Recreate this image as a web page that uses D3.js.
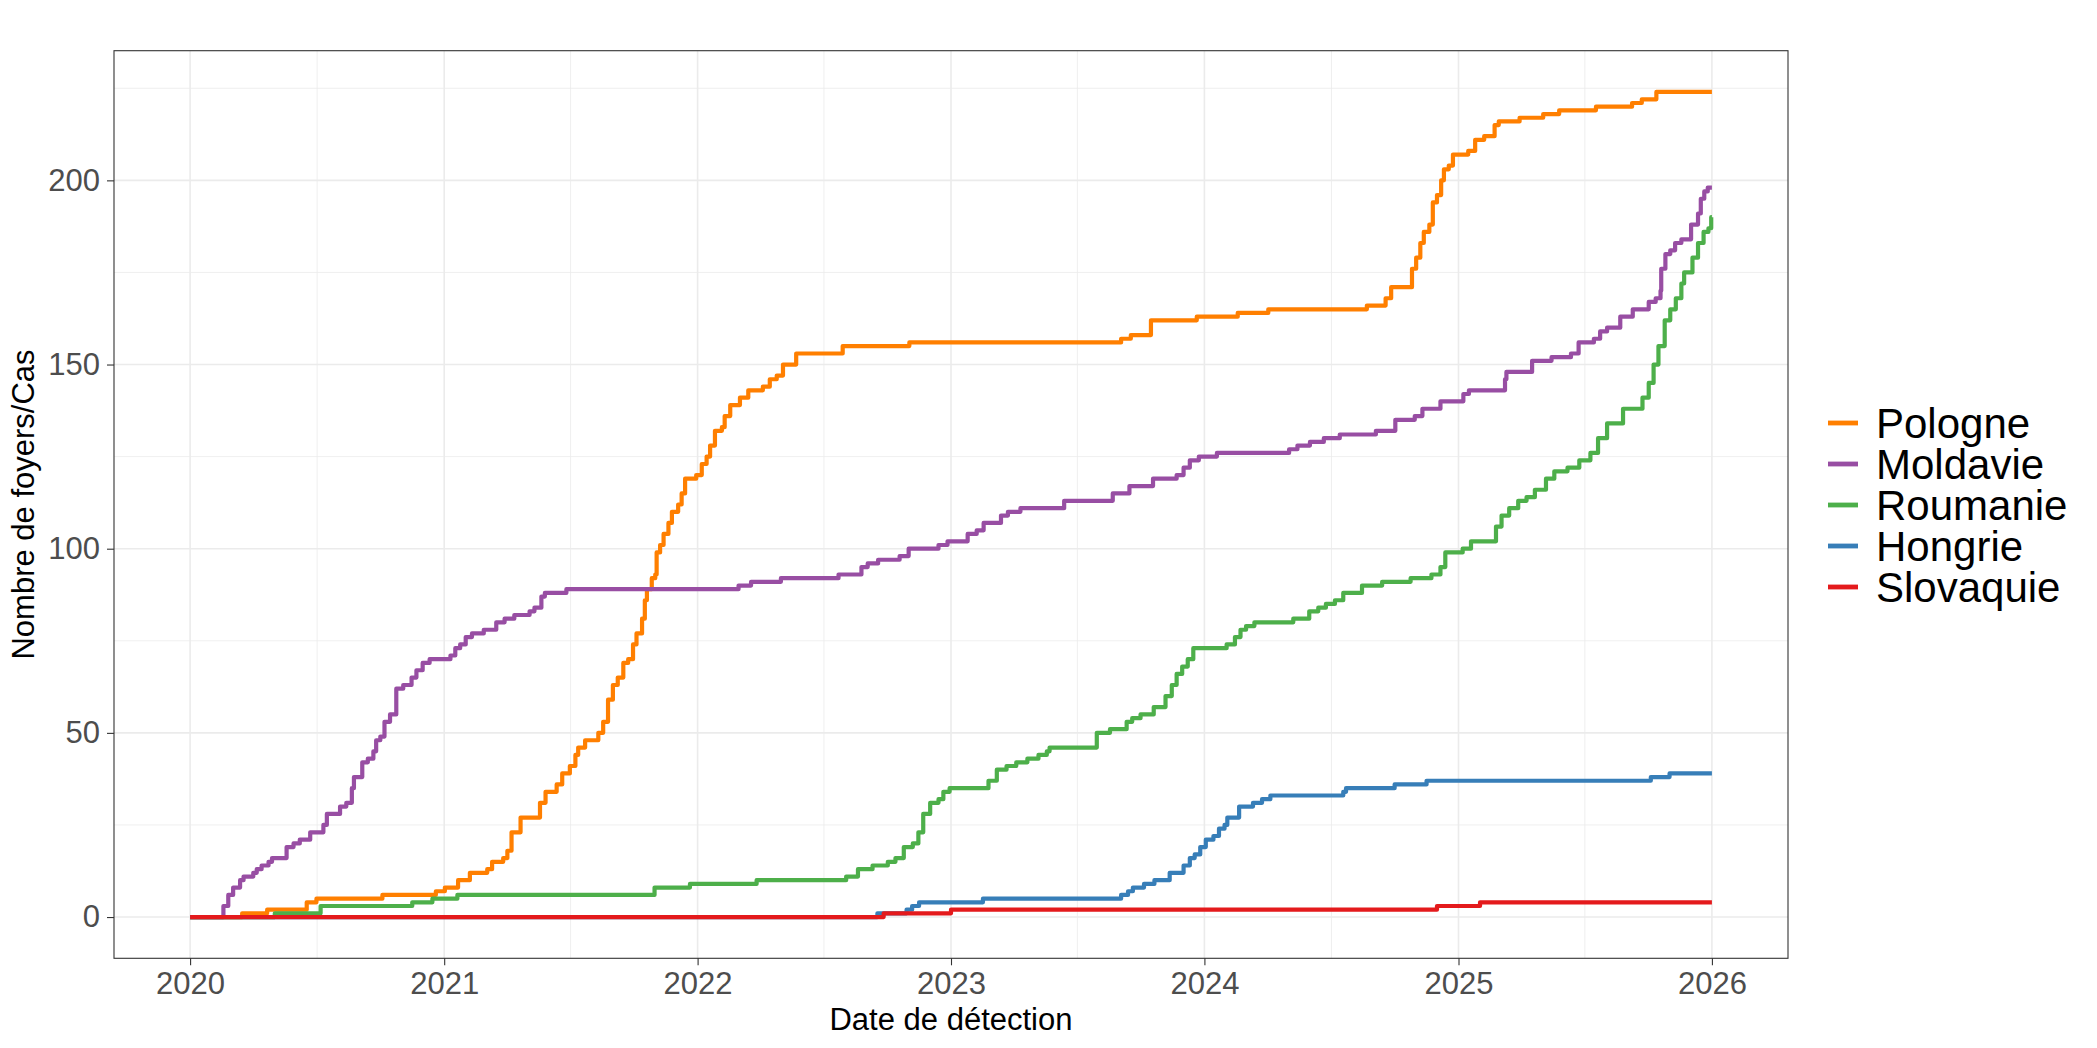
<!DOCTYPE html>
<html lang="fr">
<head>
  <meta charset="UTF-8">
  <title>Foyers cumulés</title>
  <script src="https://d3js.org/d3.v7.min.js"></script>
  <style>
    body { margin: 0; background: #fff; }
    text { font-family: "Liberation Sans", Arial, sans-serif; }
  </style>
</head>
<body>
  <div id="chart"></div>
  <script>
    // cumulative counts, [date, count]
    const pologne = [
      ["2020-01-01", 0], ["2020-03-16", 1], ["2020-04-21", 2], ["2020-06-17", 4], ["2020-07-01", 5],
      ["2020-10-04", 6], ["2020-12-20", 7], ["2021-01-02", 8], ["2021-01-21", 10], ["2021-02-07", 12],
      ["2021-03-04", 13], ["2021-03-11", 15], ["2021-03-27", 16], ["2021-04-02", 18], ["2021-04-08", 23],
      ["2021-04-21", 27], ["2021-05-19", 31], ["2021-05-27", 34], ["2021-06-12", 36], ["2021-06-20", 39],
      ["2021-07-01", 41], ["2021-07-09", 44], ["2021-07-13", 46], ["2021-07-23", 48], ["2021-08-11", 50],
      ["2021-08-18", 53], ["2021-08-25", 59], ["2021-09-01", 63], ["2021-09-08", 65], ["2021-09-16", 69],
      ["2021-09-23", 70], ["2021-09-30", 74], ["2021-10-05", 77], ["2021-10-13", 81], ["2021-10-17", 86],
      ["2021-10-20", 89], ["2021-10-27", 92], ["2021-11-01", 93], ["2021-11-03", 99], ["2021-11-08", 101],
      ["2021-11-13", 104], ["2021-11-20", 107], ["2021-11-25", 110], ["2021-12-04", 112], ["2021-12-09", 115],
      ["2021-12-14", 119], ["2021-12-30", 120], ["2022-01-07", 123], ["2022-01-14", 125], ["2022-01-19", 128],
      ["2022-01-26", 132], ["2022-02-05", 133], ["2022-02-09", 136], ["2022-02-17", 139], ["2022-03-03", 141],
      ["2022-03-15", 143], ["2022-04-05", 144], ["2022-04-15", 146], ["2022-04-25", 147], ["2022-05-04", 150],
      ["2022-05-23", 153], ["2022-07-29", 155], ["2022-11-02", 156], ["2023-09-03", 157], ["2023-09-17", 158],
      ["2023-10-16", 162], ["2023-12-21", 163], ["2024-02-18", 164], ["2024-04-02", 165], ["2024-08-22", 166],
      ["2024-09-18", 168], ["2024-09-26", 171], ["2024-10-26", 176], ["2024-11-01", 179], ["2024-11-07", 183],
      ["2024-11-12", 186], ["2024-11-20", 188], ["2024-11-25", 194], ["2024-12-01", 196], ["2024-12-07", 200],
      ["2024-12-11", 203], ["2024-12-18", 204], ["2024-12-24", 207], ["2025-01-15", 208], ["2025-01-25", 211],
      ["2025-02-07", 212], ["2025-02-22", 215], ["2025-02-28", 216], ["2025-03-30", 217], ["2025-05-03", 218],
      ["2025-05-26", 219], ["2025-07-18", 220], ["2025-09-08", 221], ["2025-09-22", 222], ["2025-10-13", 224],
      ["2026-01-01", 224]
    ];
    const moldavie = [
      ["2020-01-01", 0], ["2020-02-18", 3], ["2020-02-25", 6], ["2020-03-03", 8], ["2020-03-13", 10],
      ["2020-03-18", 11], ["2020-04-01", 12], ["2020-04-06", 13], ["2020-04-13", 14], ["2020-04-23", 15],
      ["2020-04-28", 16], ["2020-05-19", 19], ["2020-05-29", 20], ["2020-06-07", 21], ["2020-06-22", 23],
      ["2020-07-11", 25], ["2020-07-16", 28], ["2020-08-04", 30], ["2020-08-13", 31], ["2020-08-21", 35],
      ["2020-08-24", 38], ["2020-09-05", 42], ["2020-09-13", 43], ["2020-09-21", 45], ["2020-09-25", 48],
      ["2020-10-01", 49], ["2020-10-07", 53], ["2020-10-15", 55], ["2020-10-24", 62], ["2020-11-03", 63],
      ["2020-11-15", 65], ["2020-11-22", 67], ["2020-12-01", 69], ["2020-12-11", 70], ["2021-01-10", 71],
      ["2021-01-17", 73], ["2021-01-24", 74], ["2021-02-01", 76], ["2021-02-10", 77], ["2021-02-27", 78],
      ["2021-03-17", 80], ["2021-03-29", 81], ["2021-04-12", 82], ["2021-05-04", 83], ["2021-05-11", 84],
      ["2021-05-21", 87], ["2021-05-26", 88], ["2021-06-26", 89], ["2022-03-01", 90], ["2022-03-19", 91],
      ["2022-05-01", 92], ["2022-07-23", 93], ["2022-08-25", 95], ["2022-09-03", 96], ["2022-09-18", 97],
      ["2022-10-19", 98], ["2022-11-01", 100], ["2022-12-14", 101], ["2022-12-27", 102], ["2023-01-25", 104],
      ["2023-02-07", 105], ["2023-02-17", 107], ["2023-03-14", 109], ["2023-03-24", 110], ["2023-04-11", 111],
      ["2023-06-13", 113], ["2023-08-22", 115], ["2023-09-15", 117], ["2023-10-19", 119], ["2023-11-22", 120],
      ["2023-12-02", 122], ["2023-12-11", 124], ["2023-12-24", 125], ["2024-01-19", 126], ["2024-05-02", 127],
      ["2024-05-14", 128], ["2024-06-01", 129], ["2024-06-21", 130], ["2024-07-14", 131], ["2024-09-04", 132],
      ["2024-10-02", 135], ["2024-10-30", 136], ["2024-11-10", 138], ["2024-12-06", 140], ["2025-01-08", 142],
      ["2025-01-16", 143], ["2025-03-09", 146], ["2025-03-11", 148], ["2025-04-17", 151], ["2025-05-15", 152],
      ["2025-06-12", 153], ["2025-06-23", 156], ["2025-07-15", 157], ["2025-07-24", 159], ["2025-08-03", 160],
      ["2025-08-22", 163], ["2025-09-09", 165], ["2025-10-02", 167], ["2025-10-12", 168], ["2025-10-19", 170],
      ["2025-10-20", 176], ["2025-10-26", 180], ["2025-11-02", 181], ["2025-11-09", 183], ["2025-11-18", 184],
      ["2025-12-02", 188], ["2025-12-12", 191], ["2025-12-16", 195], ["2025-12-21", 197], ["2025-12-26", 198],
      ["2026-01-01", 198]
    ];
    const roumanie = [
      ["2020-01-01", 0], ["2020-05-02", 1], ["2020-07-07", 3], ["2020-11-16", 4], ["2020-12-15", 5],
      ["2021-01-20", 6], ["2021-10-31", 8], ["2021-12-21", 9], ["2022-03-27", 10], ["2022-08-03", 11],
      ["2022-08-20", 13], ["2022-09-10", 14], ["2022-10-02", 15], ["2022-10-13", 16], ["2022-10-25", 19],
      ["2022-11-07", 20], ["2022-11-15", 23], ["2022-11-22", 28], ["2022-12-02", 31], ["2022-12-14", 32],
      ["2022-12-21", 34], ["2022-12-30", 35], ["2023-02-24", 37], ["2023-03-08", 40], ["2023-03-22", 41],
      ["2023-04-05", 42], ["2023-04-21", 43], ["2023-05-07", 44], ["2023-05-19", 45], ["2023-05-23", 46],
      ["2023-07-30", 50], ["2023-08-18", 51], ["2023-09-11", 53], ["2023-09-19", 54], ["2023-10-01", 55],
      ["2023-10-20", 57], ["2023-11-06", 60], ["2023-11-15", 63], ["2023-11-22", 66], ["2023-11-30", 68],
      ["2023-12-08", 70], ["2023-12-16", 73], ["2024-02-02", 74], ["2024-02-14", 76], ["2024-02-22", 78],
      ["2024-03-01", 79], ["2024-03-13", 80], ["2024-05-08", 81], ["2024-05-31", 83], ["2024-06-13", 84],
      ["2024-06-24", 85], ["2024-07-07", 86], ["2024-07-19", 88], ["2024-08-15", 90], ["2024-09-13", 91],
      ["2024-10-24", 92], ["2024-11-23", 93], ["2024-12-06", 95], ["2024-12-13", 99], ["2025-01-07", 100],
      ["2025-01-19", 102], ["2025-02-24", 106], ["2025-03-04", 109], ["2025-03-15", 111], ["2025-03-28", 113],
      ["2025-04-09", 114], ["2025-04-21", 116], ["2025-05-07", 119], ["2025-05-19", 121], ["2025-06-07", 122],
      ["2025-06-24", 124], ["2025-07-10", 126], ["2025-07-21", 130], ["2025-08-03", 134], ["2025-08-26", 138],
      ["2025-09-23", 141], ["2025-10-02", 145], ["2025-10-09", 150], ["2025-10-16", 155], ["2025-10-25", 162],
      ["2025-11-02", 165], ["2025-11-10", 168], ["2025-11-18", 172], ["2025-11-22", 175], ["2025-12-04", 179],
      ["2025-12-12", 183], ["2025-12-20", 186], ["2025-12-27", 187], ["2025-12-31", 190], ["2026-01-01", 190]
    ];
    const hongrie = [
      ["2020-01-01", 0], ["2022-09-17", 1], ["2022-10-29", 2], ["2022-11-06", 3], ["2022-11-16", 4],
      ["2023-02-16", 5], ["2023-09-03", 6], ["2023-09-13", 7], ["2023-09-20", 8], ["2023-10-06", 9],
      ["2023-10-21", 10], ["2023-11-12", 12], ["2023-12-02", 14], ["2023-12-11", 16], ["2023-12-18", 17],
      ["2023-12-26", 19], ["2024-01-03", 21], ["2024-01-14", 22], ["2024-01-22", 24], ["2024-01-30", 25],
      ["2024-02-03", 27], ["2024-02-20", 30], ["2024-03-11", 31], ["2024-03-24", 32], ["2024-04-05", 33],
      ["2024-07-19", 34], ["2024-07-23", 35], ["2024-10-01", 36], ["2024-11-16", 37], ["2025-10-05", 38],
      ["2025-11-01", 39], ["2026-01-01", 39]
    ];
    const slovaquie = [
      ["2020-01-01", 0], ["2022-09-26", 1], ["2023-01-01", 2], ["2024-12-01", 3], ["2025-02-01", 4],
      ["2026-01-01", 4]
    ];

    const countries = ["Pologne", "Moldavie", "Roumanie", "Hongrie", "Slovaquie"];
    const colors = ["#FF7F00", "#984EA3", "#4DAF4A", "#377EB8", "#E41A1C"];
    const seriesData = [pologne, moldavie, roumanie, hongrie, slovaquie];
    const xTickYears = [2020, 2021, 2022, 2023, 2024, 2025, 2026];
    const yTicks = [0, 50, 100, 150, 200];
    const yMinorTicks = [25, 75, 125, 175, 225];

    const width = 2097, height = 1048;
    const panel = { left: 114, right: 1788, top: 50.7, bottom: 958.3 };
    const parse = d3.timeParse("%Y-%m-%d");

    const series = countries.map((name, i) => ({
      name: name,
      color: colors[i],
      values: seriesData[i].map(d => ({ date: parse(d[0]), count: d[1] }))
    }));

    const allDates = series.flatMap(s => s.values.map(v => v.date));
    const dMin = d3.min(allDates), dMax = d3.max(allDates);
    const pad = (dMax - dMin) * 0.05;
    const xScale = d3.scaleTime()
      .domain([new Date(+dMin - pad), new Date(+dMax + pad)])
      .range([panel.left, panel.right]);

    const yMax = d3.max(series, s => d3.max(s.values, v => v.count));
    const yScale = d3.scaleLinear()
      .domain([-yMax * 0.05, yMax * 1.05])
      .range([panel.bottom, panel.top]);

    const svg = d3.select("#chart").append("svg")
      .attr("width", width)
      .attr("height", height);

    // grid
    const grid = svg.append("g");
    const xMinor = d3.range(2020, 2026).map(y => new Date(y, 6, 2));
    grid.selectAll(".xminor").data(xMinor).enter().append("line")
      .attr("x1", d => xScale(d)).attr("x2", d => xScale(d))
      .attr("y1", panel.top).attr("y2", panel.bottom)
      .attr("stroke", "#EBEBEB").attr("stroke-width", 0.8);
    grid.selectAll(".yminor").data(yMinorTicks).enter().append("line")
      .attr("x1", panel.left).attr("x2", panel.right)
      .attr("y1", d => yScale(d)).attr("y2", d => yScale(d))
      .attr("stroke", "#EBEBEB").attr("stroke-width", 0.8);
    grid.selectAll(".xmajor").data(xTickYears).enter().append("line")
      .attr("x1", d => xScale(new Date(d, 0, 1))).attr("x2", d => xScale(new Date(d, 0, 1)))
      .attr("y1", panel.top).attr("y2", panel.bottom)
      .attr("stroke", "#EBEBEB").attr("stroke-width", 1.6);
    grid.selectAll(".ymajor").data(yTicks).enter().append("line")
      .attr("x1", panel.left).attr("x2", panel.right)
      .attr("y1", d => yScale(d)).attr("y2", d => yScale(d))
      .attr("stroke", "#EBEBEB").attr("stroke-width", 1.6);

    // lines
    const line = d3.line()
      .curve(d3.curveStepAfter)
      .x(d => xScale(d.date))
      .y(d => yScale(d.count));

    svg.append("g").selectAll("path")
      .data(series)
      .enter()
      .append("path")
      .attr("d", d => line(d.values))
      .attr("fill", "none")
      .attr("stroke", d => d.color)
      .attr("stroke-width", 4.2)
      .attr("stroke-linejoin", "round");

    // panel border
    svg.append("rect")
      .attr("x", panel.left).attr("y", panel.top)
      .attr("width", panel.right - panel.left)
      .attr("height", panel.bottom - panel.top)
      .attr("fill", "none")
      .attr("stroke", "#333333")
      .attr("stroke-width", 1.1);

    // axes
    const xAxis = d3.axisBottom(xScale)
      .tickValues(xTickYears.map(y => new Date(y, 0, 1)))
      .tickFormat(d3.timeFormat("%Y"))
      .tickSize(7)
      .tickPadding(7);
    const gx = svg.append("g")
      .attr("transform", `translate(0, ${panel.bottom})`)
      .call(xAxis);

    const yAxis = d3.axisLeft(yScale)
      .tickValues(yTicks)
      .tickSize(7)
      .tickPadding(7);
    const gy = svg.append("g")
      .attr("transform", `translate(${panel.left}, 0)`)
      .call(yAxis);

    [gx, gy].forEach(g => {
      g.select(".domain").remove();
      g.selectAll(".tick line").attr("stroke", "#333333").attr("stroke-width", 1.1);
      g.selectAll(".tick text")
        .attr("fill", "#4D4D4D")
        .attr("font-size", "31px")
        .attr("font-family", "'Liberation Sans', Arial, sans-serif");
    });

    svg.append("text")
      .attr("x", (panel.left + panel.right) / 2)
      .attr("y", 1030)
      .attr("text-anchor", "middle")
      .attr("font-size", "31px")
      .attr("fill", "black")
      .text("Date de détection");

    svg.append("text")
      .attr("transform", `translate(34, ${(panel.top + panel.bottom) / 2}) rotate(-90)`)
      .attr("text-anchor", "middle")
      .attr("font-size", "31px")
      .attr("fill", "black")
      .text("Nombre de foyers/Cas");

    // legend
    const legend = svg.append("g")
      .attr("transform", "translate(1828, 423)");
    const items = legend.selectAll("g")
      .data(series)
      .enter()
      .append("g")
      .attr("transform", (d, i) => `translate(0, ${i * 41})`);
    items.append("line")
      .attr("x1", 0).attr("x2", 30)
      .attr("y1", 0).attr("y2", 0)
      .attr("stroke", d => d.color)
      .attr("stroke-width", 4.8);
    items.append("text")
      .attr("x", 48)
      .attr("y", 0)
      .attr("dy", "0.35em")
      .attr("font-size", "42px")
      .attr("fill", "black")
      .text(d => d.name);
  </script>
</body>
</html>
